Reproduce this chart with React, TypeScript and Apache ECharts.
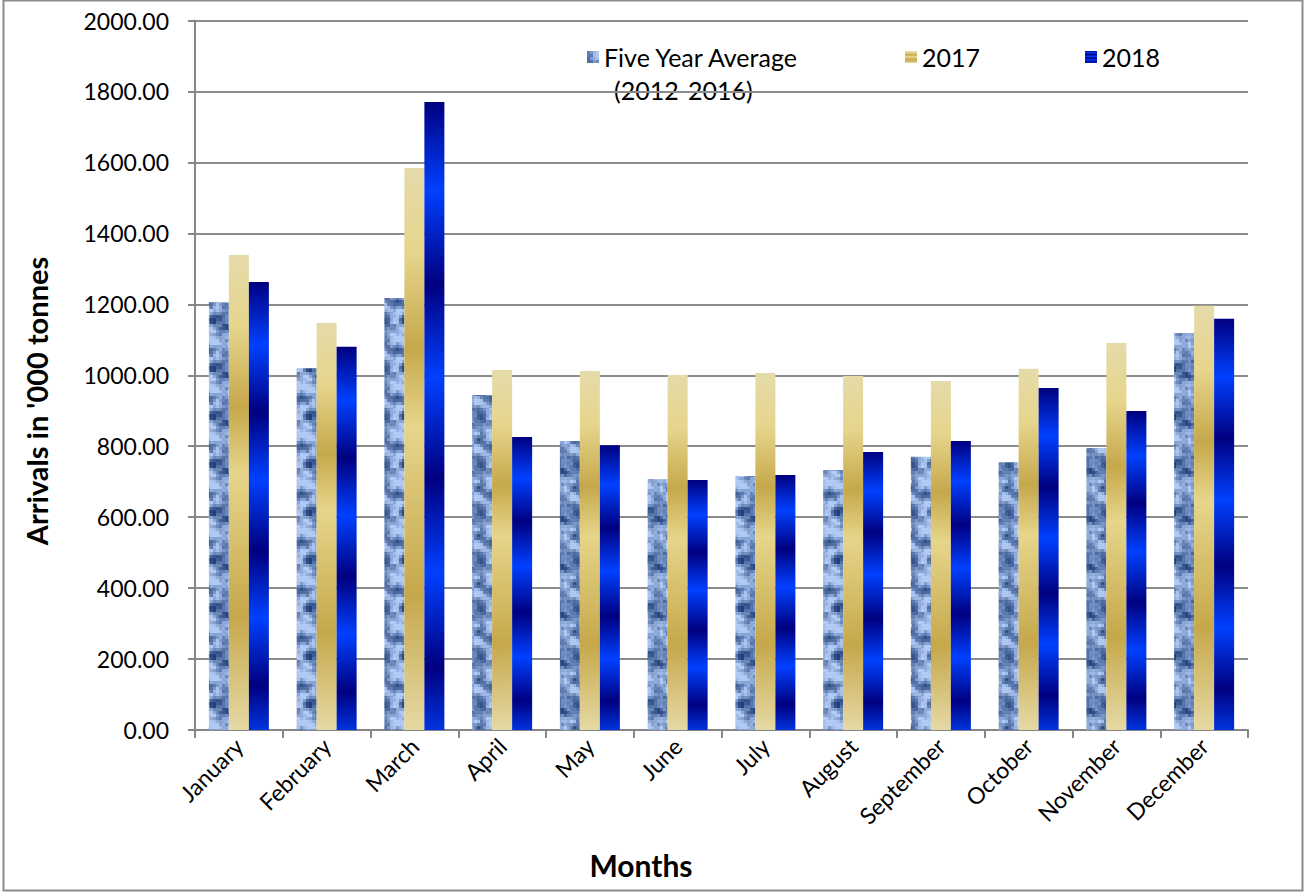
import React, { useEffect, useRef } from "react";
import * as echarts from "echarts";

const months = [
  "January", "February", "March", "April", "May", "June",
  "July", "August", "September", "October", "November", "December",
];
const seriesNames = ["Five Year Average (2012-2016)", "2017", "2018"];
const fiveYearAvg = [1206, 1020, 1218, 944, 815, 707, 716, 733, 770, 755, 795, 1119];
const y2017 = [1339, 1147, 1584, 1015, 1012, 1001, 1006, 998, 984, 1018, 1091, 1196];
const y2018 = [1263, 1080, 1770, 826, 803, 705, 719, 784, 815, 964, 899, 1159];
const yMin = 0;
const yMax = 2000;
const yStep = 200;

const FONT = "Lato, 'Noto Sans', sans-serif";

function makeTexture(): HTMLCanvasElement {
  const n = 16;
  const cell = 3;
  const c = document.createElement("canvas");
  c.width = n * cell;
  c.height = n * cell;
  const ctx = c.getContext("2d") as CanvasRenderingContext2D;
  const hash = (i: number, j: number) => {
    const s = Math.sin(i * 127.1 + j * 311.7) * 43758.5453;
    return s - Math.floor(s);
  };
  const raw: number[][] = [];
  for (let i = 0; i < n; i++) {
    raw.push([]);
    for (let j = 0; j < n; j++) raw[i].push(hash(i, j));
  }
  const dark = [30, 62, 122];
  const light = [176, 202, 244];
  for (let i = 0; i < n; i++) {
    for (let j = 0; j < n; j++) {
      let s = 0;
      for (let di = -1; di <= 1; di++)
        for (let dj = -1; dj <= 1; dj++)
          s += raw[(i + di + n) % n][(j + dj + n) % n] * (di === 0 && dj === 0 ? 2 : 1);
      let v = s / 10;
      v = Math.min(1, Math.max(0, (v - 0.5) * 2.6 + 0.6));
      const col = dark.map((d, k) => Math.round(d + (light[k] - d) * v));
      ctx.fillStyle = `rgb(${col[0]},${col[1]},${col[2]})`;
      ctx.fillRect(i * cell, j * cell, cell, cell);
    }
  }
  return c;
}

export default function App() {
  const ref = useRef<HTMLDivElement>(null);
  useEffect(() => {
    document.body.style.margin = "0";
    const chart = echarts.init(ref.current as HTMLDivElement, undefined, { renderer: "svg" });
    const texture = makeTexture();
    const goldGrad = new echarts.graphic.LinearGradient(0, 0, 0, 1, [
      { offset: 0, color: "#E5DBAA" },
      { offset: 0.15, color: "#E6D58C" },
      { offset: 0.32, color: "#C6A84B" },
      { offset: 0.46, color: "#E6D58A" },
      { offset: 0.76, color: "#C6A84B" },
      { offset: 1, color: "#E5D9A4" },
    ]);
    const blueGrad = new echarts.graphic.LinearGradient(0, 0, 0, 1, [
      { offset: 0, color: "#000080" },
      { offset: 0.14, color: "#0040FF" },
      { offset: 0.29, color: "#000080" },
      { offset: 0.44, color: "#0040FF" },
      { offset: 0.6, color: "#000080" },
      { offset: 0.75, color: "#0040FF" },
      { offset: 0.9, color: "#000080" },
      { offset: 1, color: "#0033DD" },
    ]);
    const pattern: any = { image: texture, repeat: "repeat" };
    const legendText = { fontFamily: FONT, fontSize: 25, color: "#000", lineHeight: 30 };
    const option: any = {
      animation: false,
      backgroundColor: "#fff",
      textStyle: { fontFamily: FONT },
      grid: { left: 195, right: 58, top: 20.5, bottom: 163, containLabel: false },
      legend: [
        {
          left: 587, top: 42, padding: 0, itemWidth: 12, itemHeight: 12,
          data: [{ name: seriesNames[0], icon: "rect" }],
          formatter: () => "Five Year Average", textStyle: legendText,
        },
        {
          left: 905, top: 42, padding: 0, itemWidth: 12, itemHeight: 12,
          data: [{ name: seriesNames[1], icon: "rect" }], textStyle: legendText,
        },
        {
          left: 1085, top: 42, padding: 0, itemWidth: 12, itemHeight: 12,
          data: [{ name: seriesNames[2], icon: "rect" }], textStyle: legendText,
        },
      ],
      xAxis: {
        type: "category",
        data: months,
        axisLine: { lineStyle: { color: "#868686", width: 2 } },
        axisTick: { show: true, length: 8, interval: 0, lineStyle: { color: "#868686", width: 2 } },
        axisLabel: {
          interval: 0, rotate: 45, fontSize: 23, color: "#000", fontFamily: FONT, margin: 12,
        },
      },
      yAxis: {
        type: "value",
        min: yMin, max: yMax, interval: yStep,
        axisLine: { show: true, lineStyle: { color: "#868686", width: 2 } },
        axisTick: { show: true, inside: false, length: 7, lineStyle: { color: "#868686", width: 2 } },
        splitLine: { lineStyle: { color: "#8C8C8C", width: 2 } },
        axisLabel: {
          fontSize: 23, color: "#000", fontFamily: FONT, margin: 26,
          formatter: (v: number) => v.toFixed(2),
        },
      },
      series: [
        { name: seriesNames[0], type: "bar", data: fiveYearAvg, barWidth: 20, barGap: "0%", itemStyle: { color: pattern } },
        { name: seriesNames[1], type: "bar", data: y2017, barWidth: 20, barGap: "0%", itemStyle: { color: goldGrad } },
        { name: seriesNames[2], type: "bar", data: y2018, barWidth: 20, barGap: "0%", itemStyle: { color: blueGrad } },
      ],
      graphic: [
        {
          type: "rect", silent: true,
          shape: { x: 3.5, y: 0.5, width: 1299, height: 890 },
          style: { fill: "none", stroke: "#8C8C8C", lineWidth: 2 },
        },
        {
          type: "text", left: 614, top: 77,
          style: { text: "(2012-2016)", fontFamily: FONT, fontSize: 25, fill: "#000" },
        },
        {
          type: "text", x: 36, y: 401, rotation: Math.PI / 2,
          style: {
            text: "Arrivals in '000 tonnes", fontFamily: FONT, fontSize: 29, fontWeight: "bold",
            fill: "#000", align: "center", verticalAlign: "middle",
          },
        },
        {
          type: "text", x: 641, y: 865,
          style: {
            text: "Months", fontFamily: FONT, fontSize: 30, fontWeight: "bold",
            fill: "#000", align: "center", verticalAlign: "middle",
          },
        },
      ],
    };
    chart.setOption(option);
    return () => chart.dispose();
  }, []);
  return <div ref={ref} style={{ width: 1306, height: 893 }} />;
}
